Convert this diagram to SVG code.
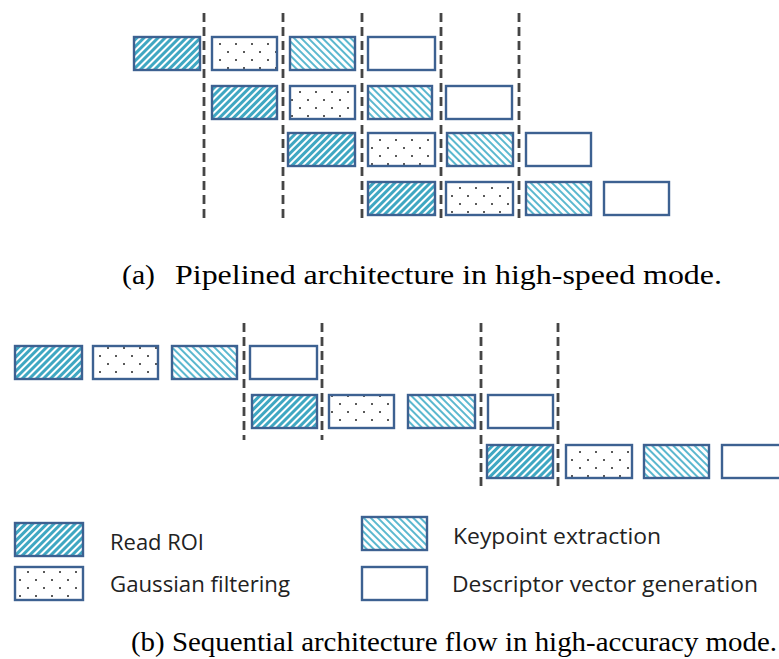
<svg xmlns="http://www.w3.org/2000/svg" width="779" height="659" viewBox="0 0 779 659">
<defs>
<pattern id="pRead" patternUnits="userSpaceOnUse" width="5" height="5" patternTransform="rotate(45)">
<rect width="5" height="5" fill="#3fa7c2"/>
<rect x="0" y="0" width="2" height="5" fill="#ffffff"/>
</pattern>
<pattern id="pKey" patternUnits="userSpaceOnUse" width="5" height="5" patternTransform="rotate(-45)">
<rect width="5" height="5" fill="#ffffff"/>
<rect x="0" y="0" width="2" height="5" fill="#5bb8cf"/>
</pattern>
<pattern id="pGauss" patternUnits="userSpaceOnUse" width="16" height="16">
<rect width="16" height="16" fill="#ffffff"/>
<circle cx="4" cy="4" r="1" fill="#222"/>
<circle cx="12" cy="12" r="1" fill="#222"/>
</pattern>
</defs>
<style>
.b{stroke:#3d6191;stroke-width:2.4}
.r{fill:url(#pRead)}
.g{fill:url(#pGauss)}
.k{fill:url(#pKey)}
.d{fill:#ffffff}
.dash{stroke:#454545;stroke-width:2.8;stroke-dasharray:9 5;fill:none}
.leg{font-family:"Open Sans","Liberation Sans",sans-serif;font-size:21px;fill:#222}
.cap{font-family:"Liberation Serif","Times New Roman",serif;font-size:27px;fill:#000}
</style>

<g id="connectors">
<line class="dash" x1="204" y1="13" x2="204" y2="220"/>
<line class="dash" x1="283" y1="13" x2="283" y2="220"/>
<line class="dash" x1="362" y1="13" x2="362" y2="220"/>
<line class="dash" x1="441" y1="13" x2="441" y2="220"/>
<line class="dash" x1="519" y1="13" x2="519" y2="220"/>
<line class="dash" x1="244" y1="323" x2="244" y2="440"/>
<line class="dash" x1="322" y1="323" x2="322" y2="440"/>
<line class="dash" x1="481" y1="323" x2="481" y2="487"/>
<line class="dash" x1="558" y1="323" x2="558" y2="487"/>
</g>

<g id="pipelined">
<g id="a-row1">
<rect class="b r" x="134" y="37" width="66" height="33"/>
<rect class="b g" x="212" y="37" width="65" height="33"/>
<rect class="b k" x="290" y="37" width="65" height="33"/>
<rect class="b d" x="368" y="37" width="67" height="33"/>
</g>
<g id="a-row2">
<rect class="b r" x="212" y="86" width="65" height="33"/>
<rect class="b g" x="290" y="86" width="65" height="33"/>
<rect class="b k" x="368" y="86" width="64" height="33"/>
<rect class="b d" x="446" y="86" width="66" height="33"/>
</g>
<g id="a-row3">
<rect class="b r" x="288" y="133" width="67" height="33"/>
<rect class="b g" x="368" y="133" width="67" height="33"/>
<rect class="b k" x="447" y="133" width="66" height="33"/>
<rect class="b d" x="526" y="133" width="65" height="33"/>
</g>
<g id="a-row4">
<rect class="b r" x="368" y="182" width="67" height="33"/>
<rect class="b g" x="446" y="182" width="67" height="33"/>
<rect class="b k" x="526" y="182" width="65" height="33"/>
<rect class="b d" x="604" y="182" width="65" height="33"/>
</g>
</g>

<g id="caption-a">
<text class="cap" x="122" y="284" textLength="33" lengthAdjust="spacingAndGlyphs">(a)</text>
<text class="cap" x="175" y="284" textLength="547" lengthAdjust="spacingAndGlyphs">Pipelined architecture in high-speed mode.</text>
</g>

<g id="sequential">
<g id="b-row1">
<rect class="b r" x="15" y="346" width="67" height="33"/>
<rect class="b g" x="93" y="346" width="65" height="33"/>
<rect class="b k" x="172" y="346" width="65" height="33"/>
<rect class="b d" x="250" y="346" width="67" height="33"/>
</g>
<g id="b-row2">
<rect class="b r" x="252" y="395" width="65" height="33"/>
<rect class="b g" x="329" y="395" width="65" height="33"/>
<rect class="b k" x="408" y="395" width="67" height="33"/>
<rect class="b d" x="488" y="395" width="65" height="33"/>
</g>
<g id="b-row3">
<rect class="b r" x="487" y="445" width="66" height="33"/>
<rect class="b g" x="566" y="445" width="66" height="33"/>
<rect class="b k" x="644" y="445" width="65" height="33"/>
<rect class="b d" x="722" y="445" width="66" height="33"/>
</g>
</g>

<g id="legend">
<g id="leg-read">
<rect class="b r" x="15" y="523" width="68" height="33"/>
<text class="leg" x="110" y="550" textLength="94" lengthAdjust="spacingAndGlyphs">Read ROI</text>
</g>
<g id="leg-gauss">
<rect class="b g" x="15" y="567" width="68" height="33"/>
<text class="leg" x="110" y="592" textLength="180" lengthAdjust="spacingAndGlyphs">Gaussian filtering</text>
</g>
<g id="leg-key">
<rect class="b k" x="362" y="517" width="65" height="33"/>
<text class="leg" x="453" y="544" textLength="208" lengthAdjust="spacingAndGlyphs">Keypoint extraction</text>
</g>
<g id="leg-desc">
<rect class="b d" x="362" y="567" width="65" height="33"/>
<text class="leg" x="452" y="592" textLength="306" lengthAdjust="spacingAndGlyphs">Descriptor vector generation</text>
</g>
</g>

<g id="caption-b">
<text class="cap" x="131" y="651" textLength="646" lengthAdjust="spacingAndGlyphs">(b) Sequential architecture flow in high-accuracy mode.</text>
</g>
</svg>
